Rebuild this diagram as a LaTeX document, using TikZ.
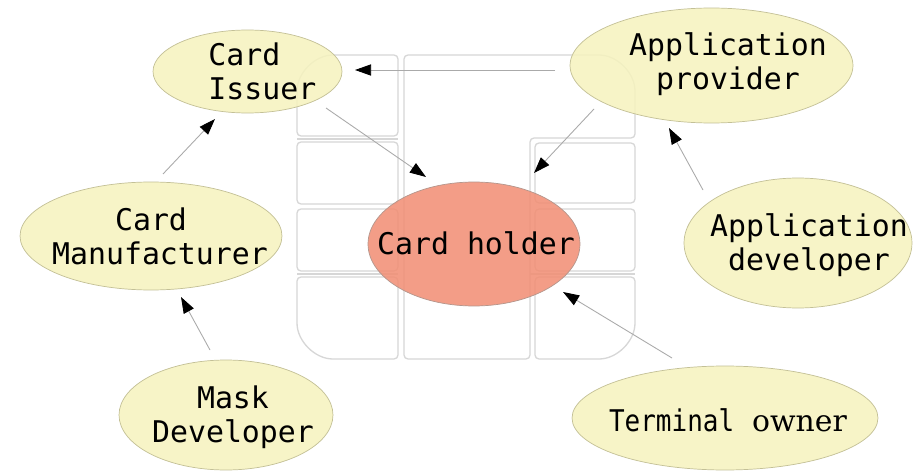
\documentclass[tikz,border=0pt]{standalone}
\usepackage{fontspec}
\usetikzlibrary{shapes.geometric,arrows.meta}
\newfontfamily\monofnt{DejaVu Sans Mono}
\newfontfamily\monocnd[FakeStretch=0.87]{DejaVu Sans Mono}
\newfontfamily\seriffnt{DejaVu Serif}
\definecolor{chipline}{RGB}{215,215,215}
\definecolor{yel}{RGB}{246,243,190}
\definecolor{yelborder}{RGB}{195,192,150}
\definecolor{salmon}{RGB}{242,141,115}
\definecolor{salborder}{RGB}{180,150,140}
\definecolor{arrowline}{RGB}{170,170,170}
\begin{document}
\begin{tikzpicture}[x=0.02cm,y=-0.02cm,
 chip/.style={draw=chipline,line width=0.75pt},
 actor/.style={ellipse,draw=yelborder,fill=yel,fill opacity=0.85,line width=0.4pt,inner sep=0pt},
 hold/.style={ellipse,draw=salborder,fill=salmon,fill opacity=0.85,line width=0.4pt,inner sep=0pt},
 lbl/.style={font=\monofnt\fontsize{17}{19.3}\selectfont,inner sep=0pt,align=center},
 conn/.style={draw=arrowline,line width=0.5pt,-{Triangle[length=9.2pt,width=6.4pt,color=black]}}]
\fill[white] (0,0) rectangle (924,473);
\useasboundingbox (0,0) rectangle (924,473);
% chip contacts
\draw[chip,rounded corners=2.3pt] (297,95) arc[start angle=180,end angle=270,radius=40] -- (398,55) -- (398,136) -- (297,136) -- cycle;
\draw[chip] (297,139) -- (398,139);
\draw[chip,rounded corners=2.3pt] (297,142) rectangle (398,204);
\draw[chip,rounded corners=2.3pt] (297,209) rectangle (398,271);
\draw[chip] (297,274) -- (398,274);
\draw[chip,rounded corners=2.3pt] (297,277) -- (398,277) -- (398,359) -- (337,359) arc[start angle=90,end angle=180,radius=40] -- cycle;
\draw[chip,rounded corners=2.3pt] (404,200) -- (404,55) -- (595,55) arc[start angle=-90,end angle=0,radius=40] -- (635,138) -- (530,138) -- (530,359) -- (404,359) -- cycle;
\draw[chip,rounded corners=2.3pt] (535,143) rectangle (635,203);
\draw[chip,rounded corners=2.3pt] (535,209) rectangle (635,271);
\draw[chip] (530,274) -- (635,274);
\draw[chip,rounded corners=2.3pt] (535,277) -- (635,277) -- (635,319) arc[start angle=0,end angle=90,radius=40] -- (535,359) -- cycle;
% actors
\node[actor,minimum width=3.78cm,minimum height=1.66cm] (ci) at (247.5,71.5) {};
\node[actor,minimum width=5.66cm,minimum height=2.30cm] (ap) at (711.5,65.5) {};
\node[actor,minimum width=5.24cm,minimum height=2.16cm] (cm) at (151,236) {};
\node[hold,minimum width=4.24cm,minimum height=2.48cm] (ch) at (474,244) {};
\node[actor,minimum width=6.12cm,minimum height=2.08cm] (to) at (725,418) {};
\node[actor,minimum width=4.56cm,minimum height=2.60cm] (ad) at (798,243) {};
\node[actor,minimum width=4.28cm,minimum height=2.20cm] (md) at (226,415) {};
% connector ends
\coordinate (s1) at (555,70);  \coordinate (e1) at (355,70);
\coordinate (s2) at (326,108); \coordinate (e2) at (426,177);
\coordinate (s3) at (594,109); \coordinate (e3) at (534,173);
\coordinate (s4) at (672,358); \coordinate (e4) at (563,292);
\coordinate (s5) at (163,174); \coordinate (e5) at (215,119);
\coordinate (s6) at (703,190); \coordinate (e6) at (669,128);
\coordinate (s7) at (210,350); \coordinate (e7) at (181,297);
\draw[conn] (s1) -- (e1);
\draw[conn] (s2) -- (e2);
\draw[conn] (s3) -- (e3);
\draw[conn] (s4) -- (e4);
\draw[conn] (s5) -- (e5);
\draw[conn] (s6) -- (e6);
\draw[conn] (s7) -- (e7);
% labels
\node[lbl,align=left,anchor=west] (tci) at (208,71.5) {Card\\Issuer};
\node[lbl] (tap) at (728,64.5) {Application\\provider};
\node[lbl] (tcm) at (160,236.5) {Card\hphantom{x}\\Manufacturer};
\node[lbl] (tch) at (476,243) {Card holder};
\node[lbl] (tad) at (809,245) {Application\\developer};
\node[lbl] (tmd) at (233,417) {Mask\\Developer};
\node[lbl] (tto) at (728,420) {{\monocnd Terminal} {\seriffnt owner}};
\end{tikzpicture}
\end{document}
